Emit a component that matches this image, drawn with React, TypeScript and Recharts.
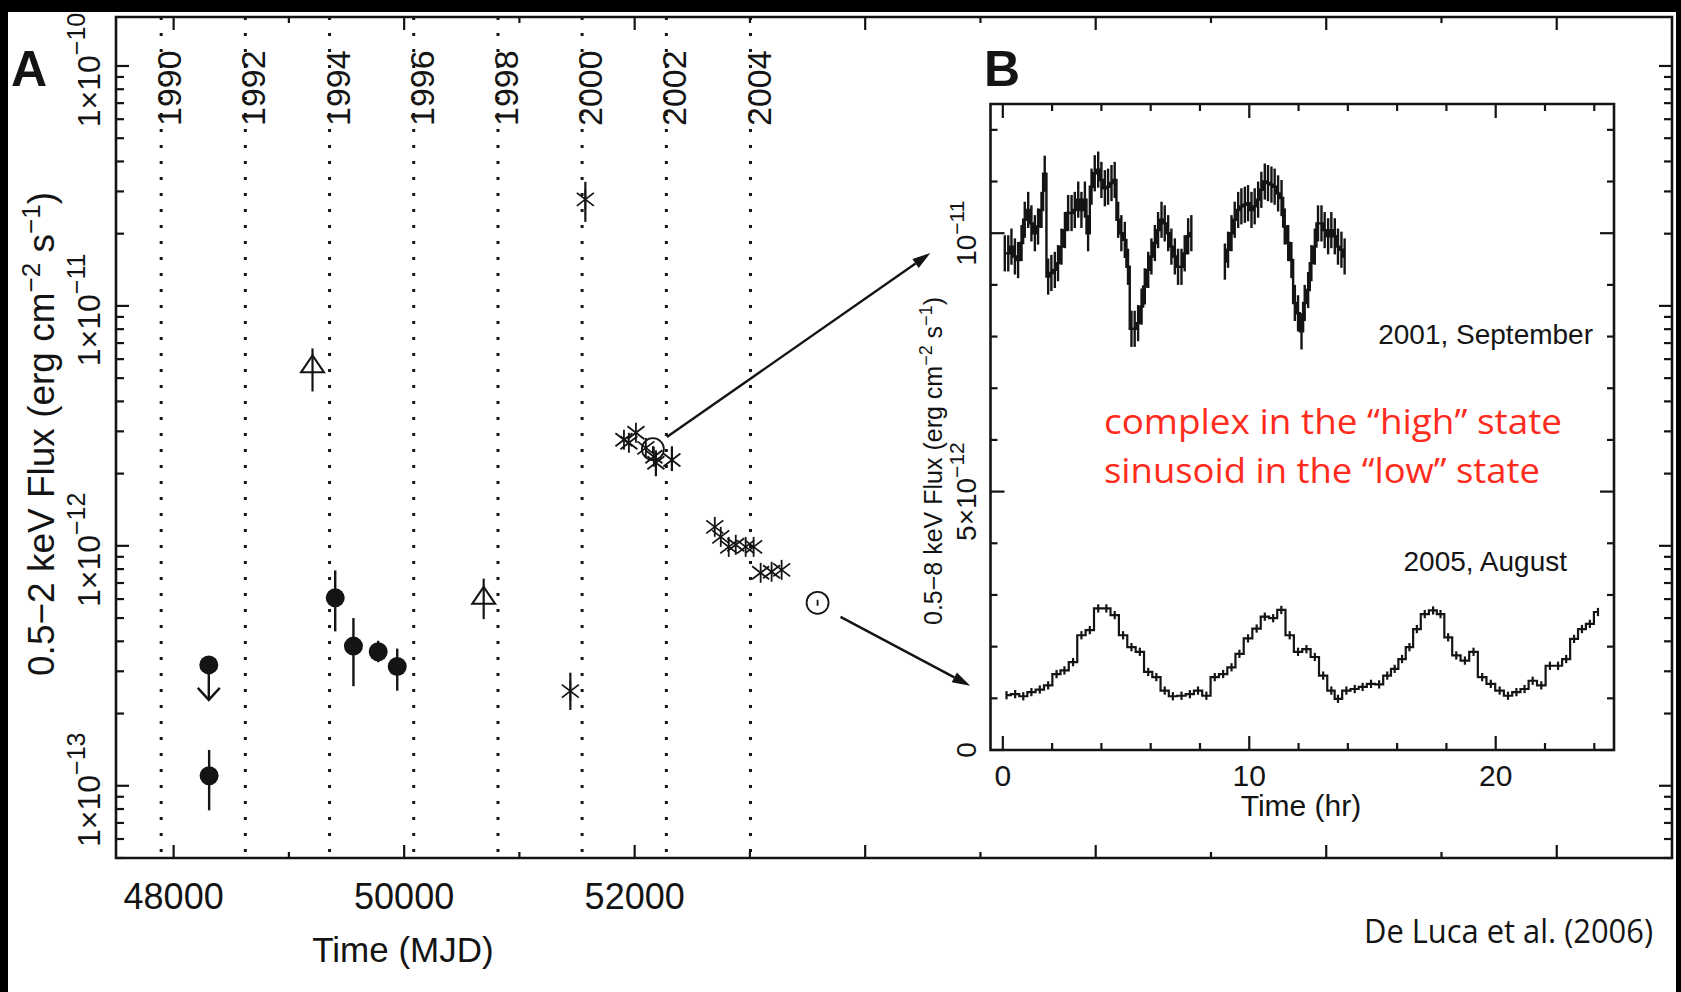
import {
  ComposedChart,
  ErrorBar,
  Line,
  ReferenceArea,
  ReferenceLine,
  Scatter,
  XAxis,
  YAxis
} from "recharts";

const INK = "#141414";
const PLOT_FONT = "'Liberation Sans', Arial, Helvetica, sans-serif";
const NOTE_FONT = "'Open Sans', Lato, sans-serif";
const NOTE_RED = "#ff2b1c";

// ---------- panel A: long-term 0.5-2 keV flux (erg cm^-2 s^-1) vs MJD ----------
const yearNames = ["1990", "1992", "1994", "1996", "1998", "2000", "2002", "2004"];
const yearStartMjd = [47892, 48622, 49353, 50083, 50814, 51544, 52275, 53005];

const mjdTicks = [48000, 49000, 50000, 51000, 52000, 53000, 54000, 55000, 56000, 57000, 58000, 59000, 60000];
const mjdLabelled = [48000, 50000, 52000];
const fluxDecades = [-14, -13, -12, -11, -10];
const fluxMantissas = [1, 2, 3, 4, 5, 6, 7, 8, 9];

// filled circles
const rosatPoints = [
  { mjd: 48308, flux: 1.1e-13, lo: 7.9e-14, hi: 1.41e-13 },
  { mjd: 49402, flux: 6.07e-13, lo: 4.4e-13, hi: 7.9e-13 },
  { mjd: 49560, flux: 3.82e-13, lo: 2.6e-13, hi: 5.0e-13 },
  { mjd: 49775, flux: 3.62e-13, lo: 3.27e-13, hi: 4.02e-13 },
  { mjd: 49940, flux: 3.14e-13, lo: 2.49e-13, hi: 3.73e-13 }
];
const rosatLimits = [{ mjd: 48305, flux: 3.19e-13 }];

// open triangles
const triangleObs = [
  { mjd: 49205, flux: 5.6e-12, lo: 4.4e-12, hi: 6.65e-12 },
  { mjd: 50690, flux: 6.07e-13, lo: 4.95e-13, hi: 7.3e-13 }
];

// asterisks
const starObs = [
  { mjd: 51442, flux: 2.48e-13, lo: 2.07e-13, hi: 2.96e-13 },
  { mjd: 51572, flux: 2.78e-11, lo: 2.24e-11, hi: 3.29e-11 },
  { mjd: 51907, flux: 2.77e-12 },
  { mjd: 51950, flux: 2.69e-12 },
  { mjd: 52011, flux: 2.96e-12 },
  { mjd: 52097, flux: 2.56e-12 },
  { mjd: 52167, flux: 2.35e-12 },
  { mjd: 52184, flux: 2.22e-12, lo: 1.95e-12, hi: 2.5e-12 },
  { mjd: 52323, flux: 2.28e-12, lo: 2.05e-12, hi: 2.6e-12 },
  { mjd: 52695, flux: 1.2e-12 },
  { mjd: 52747, flux: 1.09e-12 },
  { mjd: 52816, flux: 0.99e-12 },
  { mjd: 52877, flux: 1.01e-12 },
  { mjd: 52963, flux: 0.99e-12 },
  { mjd: 53032, flux: 0.99e-12 },
  { mjd: 53093, flux: 7.72e-13 },
  { mjd: 53188, flux: 7.8e-13 },
  { mjd: 53275, flux: 7.94e-13 }
];

// circled points, expanded in panel B
const ringedObs = [
  { mjd: 52158, flux: 2.53e-12 },
  { mjd: 53587, flux: 5.79e-13 }
];

const zoomArrows = [
  { from: { x: 52279, y: 2.84e-12 }, to: { x: 54565, y: 1.66e-11 } },
  { from: { x: 53786, y: 5.06e-13 }, to: { x: 54911, y: 2.61e-13 } }
];

// ---------- panel B: 0.5-8 keV light curves, flux in 1e-12 erg cm^-2 s^-1 ----------
const sep2001a: [number, number][] = [
  [0.08, 9.61], [0.22, 9.61], [0.35, 9.74], [0.49, 9.55], [0.62, 9.48], [0.76, 9.81], [0.89, 10.26],
  [1.03, 10.45], [1.16, 10.19], [1.3, 10.0], [1.43, 10.13], [1.57, 10.45], [1.7, 11.15], [1.84, 9.16],
  [1.97, 9.23], [2.11, 9.29], [2.24, 9.42], [2.38, 9.74], [2.52, 10.06], [2.65, 10.39], [2.79, 10.39],
  [2.92, 10.45], [3.06, 10.65], [3.19, 10.45], [3.33, 10.65], [3.46, 10.0], [3.6, 10.9], [3.73, 11.16],
  [3.87, 11.23], [4.0, 11.03], [4.14, 10.87], [4.27, 10.9], [4.41, 10.97], [4.54, 11.03], [4.68, 10.26],
  [4.81, 10.0], [4.95, 9.87], [5.08, 9.35], [5.22, 8.15], [5.35, 8.15], [5.49, 8.26], [5.63, 8.58],
  [5.76, 8.97], [5.9, 9.29], [6.03, 9.55], [6.17, 9.81], [6.3, 10.06], [6.44, 10.26], [6.57, 10.19],
  [6.71, 10.0], [6.84, 9.74], [6.98, 9.55], [7.11, 9.35], [7.25, 9.35], [7.38, 9.61], [7.52, 9.94],
  [7.65, 10.0]
];
const sep2001b: [number, number][] = [
  [9.01, 9.45], [9.14, 9.68], [9.28, 10.0], [9.41, 10.26], [9.55, 10.45], [9.68, 10.52], [9.82, 10.55],
  [9.95, 10.58], [10.09, 10.45], [10.22, 10.52], [10.36, 10.65], [10.49, 10.84], [10.63, 11.0],
  [10.76, 10.97], [10.9, 10.94], [11.03, 10.9], [11.17, 10.77], [11.31, 10.68], [11.44, 10.13],
  [11.58, 9.81], [11.71, 9.48], [11.85, 8.65], [11.98, 8.45], [12.12, 8.1], [12.25, 8.65], [12.39, 8.9],
  [12.52, 9.42], [12.66, 9.74], [12.79, 10.19], [12.93, 10.19], [13.06, 10.06], [13.2, 9.94],
  [13.33, 10.06], [13.47, 9.94], [13.6, 9.74], [13.74, 9.68], [13.87, 9.55]
];
const aug2005: [number, number][] = [
  [0.15, 1.06], [0.5, 1.08], [0.83, 1.04], [1.16, 1.12], [1.5, 1.17], [1.84, 1.25], [2.18, 1.47],
  [2.5, 1.54], [2.85, 1.7], [3.19, 2.22], [3.53, 2.32], [3.87, 2.74], [4.2, 2.74], [4.54, 2.61],
  [4.88, 2.22], [5.22, 1.99], [5.56, 1.9], [5.9, 1.51], [6.23, 1.41], [6.57, 1.15], [6.9, 1.04],
  [7.25, 1.05], [7.59, 1.08], [7.92, 1.15], [8.26, 1.05], [8.6, 1.41], [8.94, 1.47], [9.28, 1.6],
  [9.6, 1.86], [9.95, 2.16], [10.3, 2.35], [10.63, 2.58], [10.97, 2.55], [11.3, 2.71], [11.64, 2.22],
  [11.98, 1.9], [12.32, 1.95], [12.66, 1.8], [13.0, 1.44], [13.33, 1.15], [13.6, 0.99], [13.94, 1.15],
  [14.28, 1.18], [14.6, 1.22], [14.94, 1.28], [15.27, 1.27], [15.6, 1.44], [15.9, 1.57], [16.2, 1.76],
  [16.5, 1.99], [16.8, 2.34], [17.12, 2.63], [17.46, 2.7], [17.76, 2.63], [18.07, 2.18], [18.4, 1.83],
  [18.75, 1.73], [19.1, 1.9], [19.45, 1.41], [19.8, 1.28], [20.16, 1.15], [20.5, 1.05], [20.84, 1.12],
  [21.17, 1.18], [21.5, 1.34], [21.85, 1.25], [22.2, 1.63], [22.53, 1.63], [22.86, 1.76], [23.18, 2.15],
  [23.5, 2.34], [23.82, 2.44], [24.15, 2.67]
];
const sepError = 0.35;
const augError = 0.08;
const hourTicks = [0, 2, 4, 6, 8, 10, 12, 14, 16, 18, 20, 22, 24];
const hourLabelled = [0, 10, 20];
const bFluxTicks = [0, 1, 2, 3, 4, 5, 6, 7, 8, 9, 10, 11, 12];

// ---------- geometry ----------
const A = { left: 116, top: 17, width: 1556, height: 841 };
const B = { left: 900, top: 80, width: 740, height: 770, plotW: 623.5, plotH: 646 };

const fluxTicks = fluxDecades
  .flatMap((d) => fluxMantissas.map((m) => Number((m * Math.pow(10, d)).toPrecision(3))))
  .filter((v) => v >= 5e-14 && v <= 1.6e-10);

const withErr = (pts: { mjd: number; flux: number; lo?: number; hi?: number }[]) =>
  pts.map((p) => ({ ...p, err: [p.flux - (p.lo ?? p.flux), (p.hi ?? p.flux) - p.flux] }));

const toRows = (pts: [number, number][], e: number) => pts.map(([t, v]) => ({ t, v, e }));

// ---------- marks ----------
function Dot({ cx, cy }: any) {
  return <circle cx={cx} cy={cy} r={9.5} fill={INK} />;
}

function LimitDot({ cx, cy }: any) {
  return (
    <g stroke={INK} strokeWidth={2.4} fill="none">
      <circle cx={cx} cy={cy} r={9.5} fill={INK} stroke="none" />
      <line x1={cx} y1={cy} x2={cx} y2={cy + 35} />
      <polyline points={`${cx - 11},${cy + 23} ${cx},${cy + 35} ${cx + 11},${cy + 23}`} />
    </g>
  );
}

function Triangle({ cx, cy }: any) {
  return (
    <polygon
      points={`${cx},${cy - 11} ${cx - 11.5},${cy + 6} ${cx + 11.5},${cy + 6}`}
      fill="none"
      stroke={INK}
      strokeWidth={2}
    />
  );
}

function StarMark({ cx, cy }: any) {
  return (
    <g stroke={INK} strokeWidth={1.8}>
      <line x1={cx - 8.5} y1={cy - 6.5} x2={cx + 8.5} y2={cy + 6.5} />
      <line x1={cx - 8.5} y1={cy + 6.5} x2={cx + 8.5} y2={cy - 6.5} />
      <line x1={cx} y1={cy - 10} x2={cx} y2={cy + 10} />
    </g>
  );
}

function Ringed({ cx, cy }: any) {
  return (
    <g stroke={INK} strokeWidth={1.8} fill="none">
      <circle cx={cx} cy={cy} r={11} />
      <line x1={cx} y1={cy - 3} x2={cx} y2={cy + 3} />
    </g>
  );
}

function ArrowShape(p: any) {
  const { x1, y1, x2, y2 } = p;
  const ang = Math.atan2(y2 - y1, x2 - x1);
  const len = 18;
  const half = 5.5;
  const bx = x2 - len * Math.cos(ang);
  const by = y2 - len * Math.sin(ang);
  const nx = -Math.sin(ang) * half;
  const ny = Math.cos(ang) * half;
  return (
    <g>
      <line x1={x1} y1={y1} x2={bx} y2={by} stroke={INK} strokeWidth={2.4} />
      <polygon points={`${x2},${y2} ${bx + nx},${by + ny} ${bx - nx},${by - ny}`} fill={INK} />
    </g>
  );
}

function yearLine(name: string) {
  return (p: any) => {
    const top = Math.min(p.y1, p.y2);
    const bottom = Math.max(p.y1, p.y2);
    return (
      <g>
        <line x1={p.x1} y1={top} x2={p.x1} y2={bottom} stroke={INK} strokeWidth={3} strokeDasharray="3 13" />
        <text
          transform={`translate(${p.x1 + 20},${top + 109}) rotate(-90)`}
          fontFamily={PLOT_FONT}
          fontSize={34}
          fill={INK}
        >
          {name}
        </text>
      </g>
    );
  };
}

// ---------- axis ticks (drawn inward on both sides of each frame) ----------
function FluxTick({ x, y, payload }: any) {
  const v = payload.value as number;
  const lg = Math.log10(v);
  const exp = Math.round(lg);
  const major = Math.abs(lg - exp) < 1e-6;
  const len = major ? 13 : 8;
  const right = x + A.width;
  return (
    <g>
      <line x1={x} x2={x + len} y1={y} y2={y} stroke={INK} strokeWidth={2.2} />
      <line x1={right} x2={right - len} y1={y} y2={y} stroke={INK} strokeWidth={2.2} />
      {major && (
        <text
          transform={`translate(${x - 16},${y + 4}) rotate(-90)`}
          textAnchor="middle"
          fontFamily={PLOT_FONT}
          fontSize={32}
          fill={INK}
        >
          1×10
          <tspan dy={-15} fontSize={25}>
            −{Math.abs(exp)}
          </tspan>
        </text>
      )}
    </g>
  );
}

function MjdTick({ x, y, payload }: any) {
  const v = payload.value as number;
  const major = v % 2000 === 0;
  const len = major ? 13 : 6;
  const top = y - A.height;
  return (
    <g>
      <line x1={x} x2={x} y1={y} y2={y - len} stroke={INK} strokeWidth={2.2} />
      <line x1={x} x2={x} y1={top} y2={top + len} stroke={INK} strokeWidth={2.2} />
      {mjdLabelled.includes(v) && (
        <text x={x} y={y + 51} textAnchor="middle" fontFamily={PLOT_FONT} fontSize={36} fill={INK}>
          {v}
        </text>
      )}
    </g>
  );
}

function HourTick({ x, y, payload }: any) {
  const v = payload.value as number;
  const major = v % 10 === 0;
  const len = major ? 14 : 7;
  const top = y - B.plotH;
  return (
    <g>
      <line x1={x} x2={x} y1={y} y2={y - len} stroke={INK} strokeWidth={2.2} />
      <line x1={x} x2={x} y1={top} y2={top + len} stroke={INK} strokeWidth={2.2} />
      {hourLabelled.includes(v) && (
        <text x={x} y={y + 36} textAnchor="middle" fontFamily={PLOT_FONT} fontSize={30} fill={INK}>
          {v}
        </text>
      )}
    </g>
  );
}

function BFluxTick({ x, y, payload }: any) {
  const v = payload.value as number;
  const major = v % 5 === 0;
  const len = major ? 14 : 7;
  const right = x + B.plotW;
  let label = null;
  if (v === 0) label = <>0</>;
  if (v === 5)
    label = (
      <>
        5×10<tspan dy={-12} fontSize={21}>−12</tspan>
      </>
    );
  if (v === 10)
    label = (
      <>
        10<tspan dy={-12} fontSize={21}>−11</tspan>
      </>
    );
  return (
    <g>
      <line x1={x} x2={x + len} y1={y} y2={y} stroke={INK} strokeWidth={2.2} />
      <line x1={right} x2={right - len} y1={y} y2={y} stroke={INK} strokeWidth={2.2} />
      {label && (
        <text
          transform={`translate(${x - 15},${y}) rotate(-90)`}
          textAnchor="middle"
          fontFamily={PLOT_FONT}
          fontSize={28}
          fill={INK}
        >
          {label}
        </text>
      )}
    </g>
  );
}

function PanelA() {
  return (
    <ComposedChart width={1681} height={992} margin={{ top: 17, right: 9, bottom: 94, left: 56 }}>
      <XAxis
        type="number"
        dataKey="mjd"
        domain={[47500, 61000]}
        allowDataOverflow
        ticks={mjdTicks}
        interval={0}
        height={40}
        tickSize={0}
        tickMargin={0}
        axisLine={false}
        tick={<MjdTick />}
      />
      <YAxis
        type="number"
        dataKey="flux"
        scale="log"
        domain={[5e-14, 1.6e-10]}
        allowDataOverflow
        ticks={fluxTicks}
        interval={0}
        width={60}
        tickSize={0}
        tickMargin={0}
        axisLine={false}
        tick={<FluxTick />}
      />
      <ReferenceArea
        x1={47500}
        x2={61000}
        y1={5e-14}
        y2={1.6e-10}
        ifOverflow="visible"
        fill="none"
        stroke={INK}
        strokeWidth={2.6}
      />
      {yearStartMjd.map((m, i) => (
        <ReferenceLine key={yearNames[i]} x={m} shape={yearLine(yearNames[i])} />
      ))}
      {zoomArrows.map((a, i) => (
        <ReferenceLine key={`arrow-${i}`} segment={[a.from, a.to]} shape={ArrowShape} ifOverflow="visible" />
      ))}
      <Scatter data={withErr(rosatPoints)} shape={Dot} isAnimationActive={false}>
        <ErrorBar dataKey="err" direction="y" width={0} stroke={INK} strokeWidth={2.4} isAnimationActive={false} />
      </Scatter>
      <Scatter data={rosatLimits} shape={LimitDot} isAnimationActive={false} />
      <Scatter data={withErr(triangleObs)} shape={Triangle} isAnimationActive={false}>
        <ErrorBar dataKey="err" direction="y" width={0} stroke={INK} strokeWidth={2.2} isAnimationActive={false} />
      </Scatter>
      <Scatter data={ringedObs} shape={Ringed} isAnimationActive={false} />
      <Scatter data={withErr(starObs)} shape={StarMark} isAnimationActive={false}>
        <ErrorBar dataKey="err" direction="y" width={0} stroke={INK} strokeWidth={2.2} isAnimationActive={false} />
      </Scatter>
    </ComposedChart>
  );
}

function PanelB() {
  return (
    <ComposedChart width={B.width} height={B.height} margin={{ top: 24, right: 26, bottom: 60, left: 50.5 }}>
      <XAxis
        type="number"
        dataKey="t"
        domain={[-0.5, 24.8]}
        allowDataOverflow
        ticks={hourTicks}
        interval={0}
        height={40}
        tickSize={0}
        tickMargin={0}
        axisLine={false}
        tick={<HourTick />}
      />
      <YAxis
        type="number"
        domain={[0, 12.5]}
        allowDataOverflow
        ticks={bFluxTicks}
        interval={0}
        width={40}
        tickSize={0}
        tickMargin={0}
        axisLine={false}
        tick={<BFluxTick />}
      />
      <ReferenceArea
        x1={-0.5}
        x2={24.8}
        y1={0}
        y2={12.5}
        ifOverflow="visible"
        fill="none"
        stroke={INK}
        strokeWidth={2.6}
      />
      <Line
        data={toRows(sep2001a, sepError)}
        dataKey="v"
        type="step"
        stroke={INK}
        strokeWidth={2.4}
        dot={false}
        activeDot={false}
        isAnimationActive={false}
      >
        <ErrorBar dataKey="e" direction="y" width={0} stroke={INK} strokeWidth={2.4} isAnimationActive={false} />
      </Line>
      <Line
        data={toRows(sep2001b, sepError)}
        dataKey="v"
        type="step"
        stroke={INK}
        strokeWidth={2.4}
        dot={false}
        activeDot={false}
        isAnimationActive={false}
      >
        <ErrorBar dataKey="e" direction="y" width={0} stroke={INK} strokeWidth={2.4} isAnimationActive={false} />
      </Line>
      <Line
        data={toRows(aug2005, augError)}
        dataKey="v"
        type="step"
        stroke={INK}
        strokeWidth={2.2}
        dot={false}
        activeDot={false}
        isAnimationActive={false}
      >
        <ErrorBar dataKey="e" direction="y" width={0} stroke={INK} strokeWidth={2.2} isAnimationActive={false} />
      </Line>
    </ComposedChart>
  );
}

function Overlay() {
  return (
    <svg width={1681} height={992} style={{ position: "absolute", left: 0, top: 0, pointerEvents: "none" }}>
      <g fontFamily={PLOT_FONT} fill={INK}>
        <text x={11} y={86} fontWeight="bold" fontSize={50}>A</text>
        <text x={984} y={86} fontWeight="bold" fontSize={50}>B</text>
        <text transform="translate(54,434) rotate(-90)" textAnchor="middle" fontSize={37}>
          0.5−2 keV Flux (erg cm<tspan dy={-14} fontSize={26}>−2</tspan>
          <tspan dy={14}> s</tspan>
          <tspan dy={-14} fontSize={26}>−1</tspan>
          <tspan dy={14}>)</tspan>
        </text>
        <text x={403} y={962} textAnchor="middle" fontSize={35}>Time (MJD)</text>
        <text transform="translate(942,461) rotate(-90)" textAnchor="middle" fontSize={25}>
          0.5−8 keV Flux (erg cm<tspan dy={-10} fontSize={18}>−2</tspan>
          <tspan dy={10}> s</tspan>
          <tspan dy={-10} fontSize={18}>−1</tspan>
          <tspan dy={10}>)</tspan>
        </text>
        <text x={1301} y={816} textAnchor="middle" fontSize={30}>Time (hr)</text>
        <text x={1593} y={344} textAnchor="end" fontSize={28}>2001, September</text>
        <text x={1567} y={571} textAnchor="end" fontSize={28}>2005, August</text>
      </g>
      <g fontFamily={NOTE_FONT} fill={NOTE_RED} fontSize={35}>
        <text x={1104} y={434} textLength={458} lengthAdjust="spacingAndGlyphs">complex in the “high” state</text>
        <text x={1104} y={483} textLength={436} lengthAdjust="spacingAndGlyphs">sinusoid in the “low” state</text>
      </g>
      <text
        x={1364}
        y={943}
        textLength={289}
        lengthAdjust="spacingAndGlyphs"
        fontFamily={NOTE_FONT}
        fontSize={32}
        fill={INK}
      >
        De Luca et al. (2006)
      </text>
    </svg>
  );
}

export default function App() {
  return (
    <div style={{ position: "absolute", left: 0, top: 0, width: 1681, height: 992, background: "#fff", overflow: "hidden" }}>
      <div style={{ position: "absolute", left: 0, top: 0 }}>
        <PanelA />
      </div>
      <div style={{ position: "absolute", left: B.left, top: B.top }}>
        <PanelB />
      </div>
      <Overlay />
      <div style={{ position: "absolute", left: 0, top: 0, width: 1681, height: 12, background: "#000" }} />
      <div style={{ position: "absolute", left: 0, top: 0, width: 8, height: 992, background: "#000" }} />
      <div style={{ position: "absolute", left: 1676, top: 0, width: 5, height: 992, background: "#000" }} />
    </div>
  );
}
